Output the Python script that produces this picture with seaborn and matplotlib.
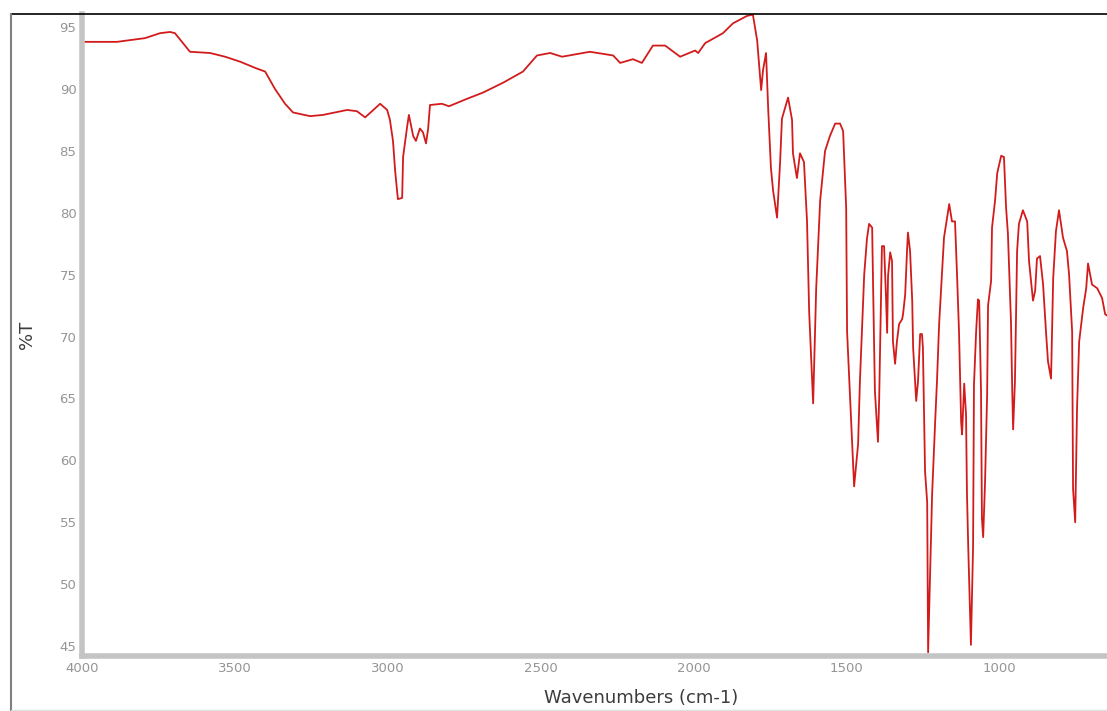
import matplotlib
matplotlib.use("Agg")
import matplotlib.pyplot as plt
from matplotlib.lines import Line2D
import seaborn as sns
import pandas as pd

# IR spectrum: wavenumber (cm-1) and %T
wavenumber = [
    4000, 3886, 3794, 3745, 3712, 3696, 3647, 3581, 3532, 3483, 3434, 3401,
    3369, 3336, 3310, 3254, 3212, 3133, 3101, 3074, 3025, 3002, 2993, 2983,
    2976, 2967, 2953, 2950, 2937, 2931, 2917, 2908, 2895, 2885, 2875, 2868,
    2862, 2823, 2800, 2741, 2689, 2623, 2558, 2512, 2469, 2430, 2339, 2263,
    2240, 2198, 2169, 2133, 2093, 2044, 1995, 1985, 1962, 1904, 1871, 1825,
    1806, 1792, 1786, 1779, 1773, 1763, 1756, 1747, 1740, 1727, 1717, 1711,
    1691, 1678, 1675, 1662, 1652, 1639, 1629, 1622, 1609, 1599, 1586, 1570,
    1554, 1537, 1521, 1511, 1501, 1498, 1475, 1462, 1456, 1449, 1442, 1433,
    1426, 1416, 1413, 1407, 1397, 1393, 1387, 1384, 1377, 1371, 1367, 1364,
    1357, 1351, 1348, 1341, 1335, 1328, 1318, 1315, 1308, 1302, 1299, 1292,
    1285, 1282, 1272, 1266, 1259, 1253, 1250, 1243, 1236, 1233, 1220, 1210,
    1204, 1197, 1187, 1181, 1171, 1164, 1155, 1145, 1138, 1132, 1125, 1122,
    1115, 1109, 1106, 1102, 1093, 1086, 1083, 1076, 1070, 1066, 1060, 1057,
    1053, 1047, 1040, 1037, 1027, 1024, 1014, 1007, 994, 985, 978, 972,
    962, 958, 955, 949, 942, 936, 923, 909, 903, 890, 883, 877,
    867, 857, 847, 841, 831, 824, 815, 805, 792, 779, 772, 762,
    759, 752, 746, 739, 726, 716, 710, 697, 680, 664, 654, 648,
]
transmittance = [
    93.8, 93.8, 94.1, 94.5, 94.6, 94.5, 93.0, 92.9, 92.6, 92.2, 91.7, 91.4,
    90.0, 88.8, 88.1, 87.8, 87.9, 88.3, 88.2, 87.7, 88.8, 88.3, 87.5, 85.8,
    83.4, 81.1, 81.2, 84.5, 86.9, 87.9, 86.2, 85.8, 86.8, 86.5, 85.6, 86.8,
    88.7, 88.8, 88.6, 89.2, 89.7, 90.5, 91.4, 92.7, 92.9, 92.6, 93.0, 92.7,
    92.1, 92.4, 92.1, 93.5, 93.5, 92.6, 93.1, 92.9, 93.7, 94.5, 95.3, 95.9,
    96.0, 93.9, 92.1, 89.9, 91.5, 92.9, 88.4, 83.6, 81.8, 79.6, 84.1, 87.6,
    89.3, 87.5, 84.8, 82.8, 84.8, 84.1, 79.3, 72.0, 64.6, 73.9, 81.0, 85.0,
    86.2, 87.2, 87.2, 86.6, 80.4, 70.4, 57.9, 61.3, 66.4, 70.8, 75.0, 77.9,
    79.1, 78.8, 74.2, 65.6, 61.5, 65.0, 73.4, 77.3, 77.3, 73.4, 70.3, 74.9,
    76.8, 76.1, 69.6, 67.8, 69.6, 71.0, 71.4, 71.8, 73.4, 76.9, 78.4, 76.9,
    72.9, 69.1, 64.8, 66.4, 70.2, 70.2, 69.1, 59.1, 56.6, 44.5, 57.2, 63.1,
    66.4, 71.0, 75.3, 78.0, 79.6, 80.7, 79.3, 79.3, 74.7, 70.4, 63.1, 62.1,
    66.2, 63.7, 57.4, 53.2, 45.1, 53.0, 66.1, 70.4, 73.0, 72.9, 65.6, 55.3,
    53.8, 58.1, 65.3, 72.5, 74.5, 78.8, 81.0, 83.2, 84.6, 84.5, 80.4, 78.3,
    71.2, 65.7, 62.5, 66.4, 76.9, 79.1, 80.2, 79.3, 76.1, 72.9, 73.7, 76.3,
    76.5, 74.2, 70.2, 68.0, 66.6, 74.7, 78.5, 80.2, 78.0, 76.9, 75.0, 70.4,
    57.7, 55.0, 64.2, 69.6, 72.3, 73.9, 75.9, 74.2, 73.9, 73.1, 71.8, 71.7,
]
x_ticks = [4000, 3500, 3000, 2500, 2000, 1500, 1000]
y_ticks = [45, 50, 55, 60, 65, 70, 75, 80, 85, 90, 95]

df = pd.DataFrame({"Wavenumbers (cm-1)": wavenumber, "%T": transmittance})

sns.set_style("white")
fig = plt.figure(figsize=(11.07, 7.11), dpi=100)
ax = fig.add_axes([82 / 1107, 55 / 711, 1 - 82 / 1107, 642 / 711])

sns.lineplot(data=df, x="Wavenumbers (cm-1)", y="%T", sort=False,
             color="#d21c1c", linewidth=1.3, ax=ax)

ax.set_xlim(4000, 648)
ax.set_ylim(44.2, 96.05)
ax.set_xticks(x_ticks)
ax.set_yticks(y_ticks)

for side in ["top", "right"]:
    ax.spines[side].set_visible(False)
for side in ["left", "bottom"]:
    ax.spines[side].set_color("#c4c4c4")
    ax.spines[side].set_linewidth(4)

ax.tick_params(axis="both", which="major", direction="in", length=2, width=2,
               color="black", labelcolor="#959595", labelsize=9.5, pad=4)

ax.set_xlabel("Wavenumbers (cm-1)", fontsize=13, color="#3c3c3c", labelpad=6)
ax.xaxis.set_label_coords(0.545, -0.052)
ax.set_ylabel("%T", fontsize=13, color="#3c3c3c")
ax.yaxis.set_label_coords(-0.045, 0.5)

# outer frame of the screenshot
fig.add_artist(Line2D([11 / 1107, 1], [697 / 711, 697 / 711], color="black", lw=1.2))
fig.add_artist(Line2D([11 / 1107, 11 / 1107], [0, 697 / 711], color="#808080", lw=1.5))
fig.add_artist(Line2D([11 / 1107, 1], [1.5 / 711, 1.5 / 711], color="#e0e0e0", lw=1))

fig.savefig("out.png", dpi=100)
